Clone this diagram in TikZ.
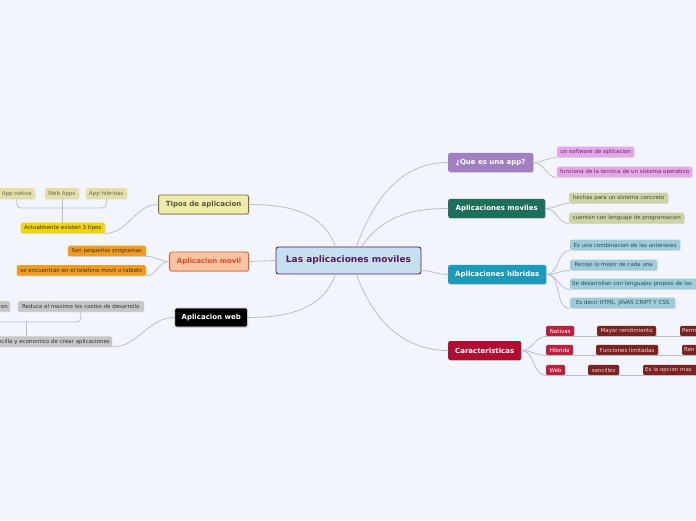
\documentclass[tikz,border=0pt]{standalone}
\usepackage{fontspec}
\setmainfont{DejaVu Sans}
\usepackage{xcolor}
\usepackage{tikz}
\usetikzlibrary{positioning,shadows}
\definecolor{PageBlue}{HTML}{F2F5FC}
\definecolor{LinkGrey}{HTML}{BDBEC4}
\definecolor{RootBlue}{HTML}{C5E0F1}
\definecolor{RootPlum}{HTML}{5A1A5E}
\definecolor{TiposYellow}{HTML}{EEEBA9}
\definecolor{TiposEdge}{HTML}{6E6C50}
\definecolor{TiposText}{HTML}{55553F}
\definecolor{MovilPeach}{HTML}{F9C5A1}
\definecolor{MovilEdge}{HTML}{E8553C}
\definecolor{MovilText}{HTML}{E5452A}
\definecolor{AppPurple}{HTML}{A27FC2}
\definecolor{MovilGreen}{HTML}{1D6E5B}
\definecolor{HibridaTeal}{HTML}{1B9BBB}
\definecolor{CaractRed}{HTML}{B10D30}
\definecolor{PinkLeaf}{HTML}{E6A7EA}
\definecolor{PinkText}{HTML}{5E2A60}
\definecolor{OliveLeaf}{HTML}{CDD3A4}
\definecolor{OliveText}{HTML}{4A4A2E}
\definecolor{TealLeaf}{HTML}{9FCCDB}
\definecolor{TealText}{HTML}{2E4A58}
\definecolor{CrimsonLeaf}{HTML}{B9223F}
\definecolor{MaroonLeaf}{HTML}{7B2222}
\definecolor{MaroonText}{HTML}{F3D6D6}
\definecolor{PaleOlive}{HTML}{E2DFA7}
\definecolor{PaleOliveText}{HTML}{6A6A52}
\definecolor{GoldLeaf}{HTML}{F2D40C}
\definecolor{OrangeLeaf}{HTML}{F29B1F}
\definecolor{GreyLeaf}{HTML}{C6C6C6}
\definecolor{LeafInk}{HTML}{333333}

\begin{document}
\begin{tikzpicture}[x=1pt,y=1pt]
  \path[use as bounding box, fill=PageBlue] (0,0) rectangle (696,520);

  \tikzset{
    apRoot/.style={
      draw=RootPlum,
      fill=RootBlue,
      line width=.9pt,
      rounded corners=2.5pt,
      minimum width=145pt,
      minimum height=27pt,
      inner sep=0pt,
      font=\fontsize{9}{10}\selectfont\bfseries,
      text=RootPlum
    },
    apBranch/.style={
      rounded corners=2pt,
      minimum height=19pt,
      inner xsep=3pt,
      inner ysep=0pt,
      font=\fontsize{7}{8}\selectfont\bfseries,
      text=white,
      drop shadow={shadow xshift=.6pt,shadow yshift=-.8pt,opacity=.3}
    },
    apLeaf/.style={
      rounded corners=1.5pt,
      minimum height=10.5pt,
      inner xsep=2pt,
      inner ysep=0pt,
      font=\fontsize{5.5}{6}\selectfont,
      text=LeafInk,
      drop shadow={shadow xshift=.5pt,shadow yshift=-.7pt,opacity=.25}
    },
    apLink/.style={
      draw=LinkGrey,
      line width=.8pt,
      line cap=round
    }
  }

  % centro del mapa
  \node[apRoot] (root) at (348.5,259.5) {Las aplicaciones moviles};

  % ramas de la derecha
  \node[apBranch, fill=AppPurple, minimum width=85pt, anchor=west]
    (queapp) at (448,357.5) {¿Que es una app?};
  \node[apBranch, fill=MovilGreen, minimum width=97pt, anchor=west]
    (moviles) at (448,311.5) {Aplicaciones moviles};
  \node[apBranch, fill=HibridaTeal, minimum width=98pt, anchor=west]
    (hibridas) at (448,245.5) {Aplicaciones hibridas};
  \node[apBranch, fill=CaractRed, minimum width=73pt, anchor=west]
    (caract) at (448,169.5) {Caracteristicas};

  % ramas de la izquierda
  \node[apBranch, fill=TiposYellow, draw=TiposEdge, line width=.8pt,
    text=TiposText, minimum width=90pt, anchor=east]
    (tipos) at (249,315.5) {Tipos de aplicacion};
  \node[apBranch, fill=MovilPeach, draw=MovilEdge, line width=.8pt,
    text=MovilText, minimum width=79pt, anchor=east]
    (movil) at (249,258.5) {Aplicacion movil};
  \node[apBranch, fill=black, draw=white, line width=.6pt,
    minimum width=73pt, anchor=east]
    (web) at (248,202.5) {Aplicacion web};

  \draw[apLink] ([xshift=8pt]root.north)  to[out=70,in=180]  (queapp.west);
  \draw[apLink] ([xshift=13pt]root.north) to[out=55,in=180]  (moviles.west);
  \draw[apLink] ([yshift=-10pt]root.east) to[out=0,in=180]   (hibridas.west);
  \draw[apLink] ([xshift=8pt]root.south)  to[out=-70,in=180] (caract.west);
  \draw[apLink] (tipos.east) to[out=0,in=110]  ([xshift=-13pt]root.north);
  \draw[apLink] (movil.east) -- (root.west);
  \draw[apLink] (web.east)   to[out=0,in=-110] ([xshift=-13pt]root.south);

  % ¿Que es una app?
  \node[apLeaf, fill=PinkLeaf, text=PinkText, minimum width=77pt, anchor=west]
    (software) at (557,368) {un software de aplicacion};
  \node[apLeaf, fill=PinkLeaf, text=PinkText, minimum width=135pt, anchor=west]
    (funciona) at (557,348) {funciona de la tecnica de un sistema operativo};
  \draw[apLink] (queapp.east) to[out=0,in=180] (software.south west);
  \draw[apLink] (queapp.east) to[out=0,in=180] (funciona.south west);

  % Aplicaciones moviles
  \node[apLeaf, fill=OliveLeaf, text=OliveText, minimum width=99pt, anchor=west]
    (hechas) at (569,322) {hechas para un sistema concreto};
  \node[apLeaf, fill=OliveLeaf, text=OliveText, minimum width=115pt, anchor=west]
    (cuentan) at (569,302) {cuentan con lenguaje de programacion};
  \draw[apLink] (moviles.east) to[out=0,in=180] (hechas.south west);
  \draw[apLink] (moviles.east) to[out=0,in=180] (cuentan.south west);

  % Aplicaciones hibridas
  \node[apLeaf, fill=TealLeaf, text=TealText, minimum width=110pt, anchor=west]
    (combina) at (570,275) {Es una combinacion de las anteriores};
  \node[apLeaf, fill=TealLeaf, text=TealText, minimum width=87pt, anchor=west]
    (recoje) at (570,255) {Recoje lo mejor de cada una};
  \node[apLeaf, fill=TealLeaf, text=TealText, text width=140pt, align=left,
    anchor=west] (desarrollan) at (570,236) {Se desarrollan con lenguajes propios de las};
  \node[apLeaf, fill=TealLeaf, text=TealText, minimum width=105pt, anchor=west]
    (decir) at (570,217) {Es decir HTML, JAVAS CRIPT Y CSS};
  \foreach \leaf in {combina,recoje,desarrollan,decir}
    \draw[apLink] (hibridas.east) to[out=0,in=180] (\leaf.south west);

  % Caracteristicas
  \node[apLeaf, fill=CrimsonLeaf, text=white, minimum width=28pt, anchor=west]
    (nativas) at (546,189) {Nativas};
  \node[apLeaf, fill=CrimsonLeaf, text=white, minimum width=27pt, anchor=west]
    (hibrida) at (546,170) {Hibrida};
  \node[apLeaf, fill=CrimsonLeaf, text=white, minimum width=19pt, anchor=west]
    (webc) at (546,150) {Web};
  \node[apLeaf, fill=MaroonLeaf, text=MaroonText, minimum width=59pt, anchor=west]
    (mayor) at (597,189) {Mayor rendimiento};
  \node[apLeaf, fill=MaroonLeaf, text=MaroonText, text width=30pt, align=left,
    anchor=west] (perm) at (680,189) {Perm};
  \node[apLeaf, fill=MaroonLeaf, text=MaroonText, minimum width=62pt, anchor=west]
    (limitadas) at (596,170) {Funciones limitadas};
  \node[apLeaf, fill=MaroonLeaf, text=MaroonText, text width=30pt, align=left,
    anchor=west] (ren) at (682,170) {Ren};
  \node[apLeaf, fill=MaroonLeaf, text=MaroonText, minimum width=31pt, anchor=west]
    (sencillez) at (588,150) {sencillez};
  \node[apLeaf, fill=MaroonLeaf, text=MaroonText, text width=80pt, align=left,
    anchor=west] (opcion) at (643,150) {Es la opcion mas};
  \foreach \leaf in {nativas,hibrida,webc}
    \draw[apLink] (caract.east) to[out=0,in=180] (\leaf.south west);
  \draw[apLink] (nativas.south west) -- (perm.south east);
  \draw[apLink] (hibrida.south west) -- (ren.south east);
  \draw[apLink] (webc.south west)    -- (opcion.south east);

  % Tipos de aplicacion
  \node[apLeaf, fill=GoldLeaf, minimum width=84pt, anchor=east]
    (actual) at (105,292) {Actualmente existen 3 tipos};
  \node[apLeaf, fill=PaleOlive, text=PaleOliveText, minimum width=36pt, anchor=east]
    (nativa) at (35,326.5) {App nativa};
  \node[apLeaf, fill=PaleOlive, text=PaleOliveText, minimum width=34pt, anchor=east]
    (webapps) at (79,326.5) {Web Apps};
  \node[apLeaf, fill=PaleOlive, text=PaleOliveText, minimum width=41pt, anchor=east]
    (apphib) at (127,326.5) {App hibridas};
  \coordinate (tbar) at (63,312);
  \draw[apLink] (tipos.west) to[out=180,in=0] (actual.south east);
  \draw[apLink, rounded corners=4pt] (nativa.south) |- (tbar) -| (apphib.south);
  \draw[apLink] (actual.north) -- (actual.north |- webapps.south);

  % Aplicacion movil
  \node[apLeaf, fill=OrangeLeaf, minimum width=78pt, anchor=east]
    (pequenos) at (146,269) {Son pequeños programas};
  \node[apLeaf, fill=OrangeLeaf, minimum width=129pt, anchor=east]
    (encuentran) at (146,249.5) {se encuentran en el telefono movil o tablets};
  \draw[apLink] (movil.west) to[out=180,in=0] (pequenos.south east);
  \draw[apLink] (movil.west) to[out=180,in=0] (encuentran.south east);

  % Aplicacion web
  \node[apLeaf, fill=GreyLeaf, minimum width=126pt, anchor=east]
    (reduce) at (144,213.5) {Reduce al maximo los costos de desarrollo};
  \node[apLeaf, fill=GreyLeaf, text width=40pt, align=right, anchor=east]
    (otro) at (10,213.5) {on};
  \node[apLeaf, fill=GreyLeaf, text width=140pt, align=right, anchor=east]
    (sencilla) at (112,178.5) {encilla y economico de crear aplicaciones};
  \coordinate (wbar) at (26,198);
  \draw[apLink] (web.west) to[out=180,in=0] (sencilla.south east);
  \draw[apLink, rounded corners=4pt] (otro.south) |- (wbar) -| (reduce.south);
  \draw[apLink] (wbar) -- (wbar |- sencilla.north);
\end{tikzpicture}
\end{document}
